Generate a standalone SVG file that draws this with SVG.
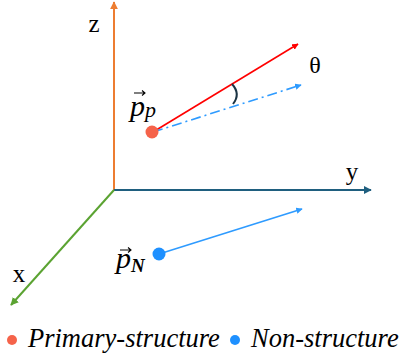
<svg xmlns="http://www.w3.org/2000/svg" width="402" height="358" viewBox="0 0 402 358">
<style>
.lbl{font-family:"Liberation Serif","Times New Roman",serif;fill:#000}
.it{font-style:italic}
.vec{fill:none;stroke:#000;stroke-width:1.1}
.leg{font-family:"Liberation Serif","Times New Roman",serif;font-style:italic;font-size:26.5px;fill:#000}
</style>
<defs>
<marker id="mO" viewBox="0 0 10 10" refX="9" refY="5" markerWidth="4" markerHeight="4" orient="auto"><path d="M0,0 L10,5 L0,10 z" fill="#ED7D31"/></marker>
<marker id="mT" viewBox="0 0 10 10" refX="9" refY="5" markerWidth="4" markerHeight="4" orient="auto"><path d="M0,0 L10,5 L0,10 z" fill="#1F5F7F"/></marker>
<marker id="mG" viewBox="0 0 10 10" refX="9" refY="5" markerWidth="4" markerHeight="4" orient="auto"><path d="M0,0 L10,5 L0,10 z" fill="#5BA332"/></marker>
<marker id="mR" viewBox="0 0 10 10" refX="9" refY="5" markerWidth="4" markerHeight="4" orient="auto"><path d="M0,0 L10,5 L0,10 z" fill="#FF0000"/></marker>
<marker id="mB" viewBox="0 0 10 10" refX="9" refY="5" markerWidth="4" markerHeight="4" orient="auto"><path d="M0,0 L10,5 L0,10 z" fill="#2E9BFF"/></marker>
</defs>
<g id="connectors" fill="none">
<line id="z-axis" x1="114" y1="190" x2="114" y2="2" stroke="#ED7D31" stroke-width="2" marker-end="url(#mO)"/>
<line id="y-axis" x1="114" y1="190" x2="371" y2="190" stroke="#1F5F7F" stroke-width="2" marker-end="url(#mT)"/>
<line id="x-axis" x1="114" y1="190" x2="11" y2="305" stroke="#5BA332" stroke-width="2" marker-end="url(#mG)"/>
<line id="vp" x1="153" y1="132" x2="298" y2="44" stroke="#FF0000" stroke-width="1.6" marker-end="url(#mR)"/>
<line id="vn-proj" x1="153" y1="132" x2="301" y2="85" stroke="#2E9BFF" stroke-width="1.6" stroke-dasharray="10,4,2,4" marker-end="url(#mB)"/>
<line id="vn" x1="159" y1="254" x2="302" y2="209" stroke="#2E9BFF" stroke-width="1.6" marker-end="url(#mB)"/>
<path id="angle" d="M232,84 Q241,94 233,104" stroke="#1B3444" stroke-width="2"/>
</g>
<g id="axis-labels">
<text class="lbl" x="94" y="32" font-size="25" text-anchor="middle">z</text>
<text class="lbl" x="352" y="180" font-size="25" text-anchor="middle">y</text>
<text class="lbl" x="19" y="282" font-size="25" text-anchor="middle">x</text>
<text class="lbl" x="315" y="73" font-size="24" text-anchor="middle">θ</text>
</g>
<g id="node-pp">
<circle cx="152" cy="132" r="6.5" fill="#F5634A"/>
<path class="vec" d="M134,93 H145 M142,90.5 L145,93 L142,95.5"/>
<text class="lbl it" x="130" y="116" font-size="30">p<tspan font-size="22" dy="1">p</tspan></text>
</g>
<g id="node-pn">
<circle cx="159" cy="254" r="6.5" fill="#1E90FF"/>
<path class="vec" d="M120,250 H131 M128,247.5 L131,250 L128,252.5"/>
<text class="lbl it" x="116" y="268" font-size="30">p<tspan font-size="19" font-weight="bold" dy="4">N</tspan></text>
</g>
<g id="legend">
<circle cx="12" cy="340" r="5" fill="#F5634A"/>
<text class="leg" x="28" y="347">Primary-structure</text>
<circle cx="235" cy="340" r="5" fill="#1E90FF"/>
<text class="leg" x="251" y="347">Non-structure</text>
</g>
</svg>
